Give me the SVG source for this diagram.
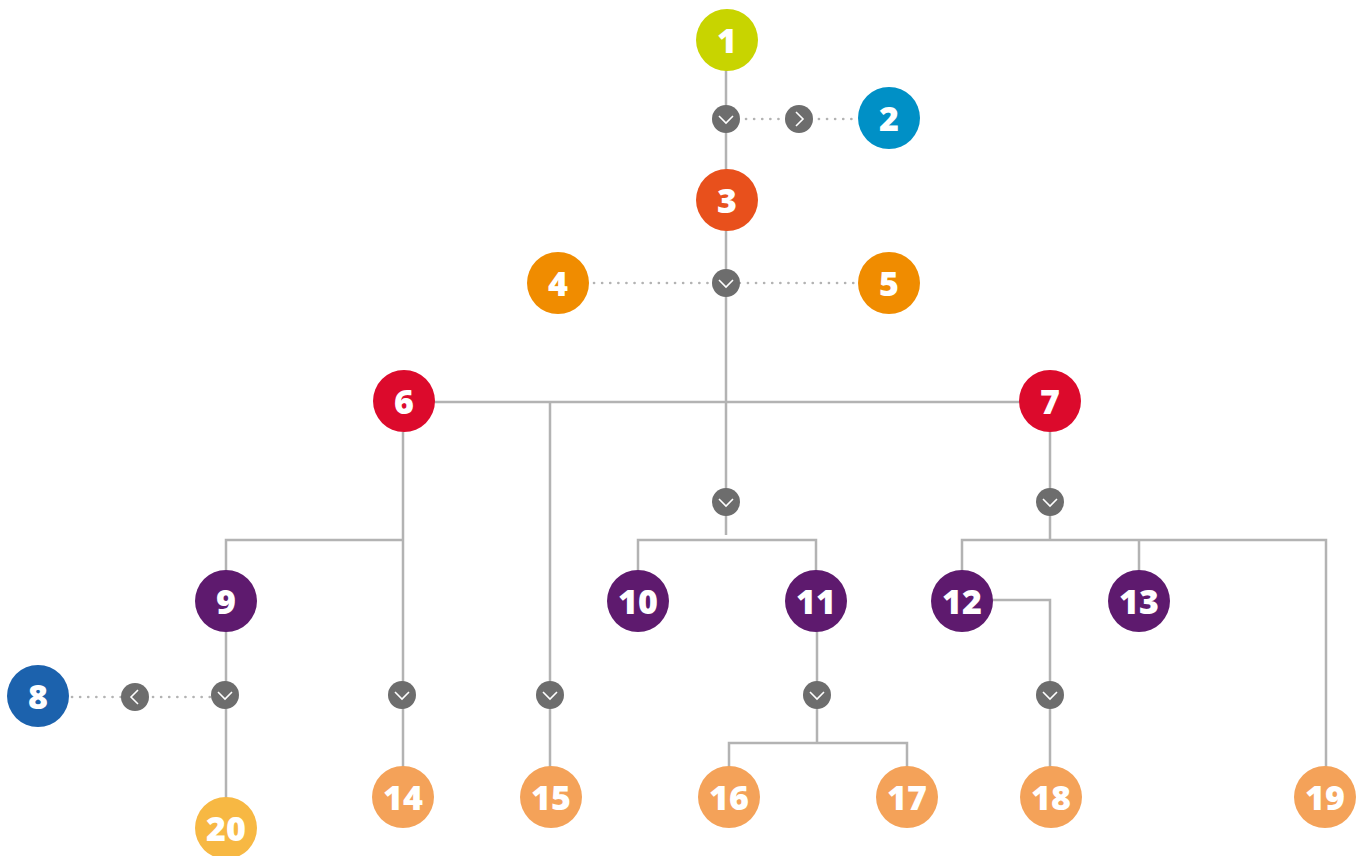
<svg xmlns="http://www.w3.org/2000/svg" width="1365" height="856" viewBox="0 0 1365 856">
<style>
.ln{stroke:#b3b3b3;stroke-width:2.5;fill:none}
.dot{stroke:#b3b3b3;stroke-width:2.6;fill:none;stroke-dasharray:0.1 8;stroke-linecap:round}
.ch{fill:#6d6d6d}
.cv{stroke:#fff;stroke-width:1.6;fill:none}
.t{font-family:"Open Sans","Noto Sans",sans-serif;font-weight:800;font-size:34px;fill:#fff;text-anchor:middle;dominant-baseline:central}
</style>
<defs>
<g id="down"><circle r="14" class="ch"/><polyline class="cv" points="-7,-3 0,4 7,-3"/></g>
<g id="right"><circle r="14" class="ch"/><polyline class="cv" points="-3,-7 4,0 -3,7"/></g>
<g id="left"><circle r="14" class="ch"/><polyline class="cv" points="3,-7 -4,0 3,7"/></g>
</defs>
<g id="connectors">
<line class="ln" x1="726" y1="70" x2="726" y2="170"/>
<line class="dot" x1="746" y1="119" x2="858" y2="119"/>
<line class="ln" x1="726" y1="230" x2="726" y2="535"/>
<line class="dot" x1="594" y1="283" x2="858" y2="283"/>
<line class="ln" x1="434" y1="402" x2="1020" y2="402"/>
<line class="ln" x1="550" y1="402" x2="550" y2="767"/>
<polyline class="ln" points="638,571 638,540 816,540 816,571"/>
<line class="ln" x1="403" y1="432" x2="403" y2="767"/>
<polyline class="ln" points="403,540 226,540 226,571"/>
<line class="ln" x1="226" y1="631" x2="226" y2="798"/>
<line class="dot" x1="72" y1="697" x2="210" y2="697"/>
<line class="ln" x1="1050" y1="432" x2="1050" y2="540"/>
<polyline class="ln" points="962,571 962,540 1326,540 1326,767"/>
<line class="ln" x1="1139" y1="540" x2="1139" y2="571"/>
<polyline class="ln" points="992,600 1050,600 1050,767"/>
<line class="ln" x1="817" y1="631" x2="817" y2="743"/>
<polyline class="ln" points="729,767 729,743 907,743 907,767"/>
</g>
<g id="chevrons">
<use href="#down" x="726" y="119"/>
<use href="#right" x="799" y="119"/>
<use href="#down" x="726" y="283"/>
<use href="#down" x="726" y="502"/>
<use href="#down" x="1050" y="502"/>
<use href="#down" x="225" y="695"/>
<use href="#left" x="135" y="697"/>
<use href="#down" x="402" y="695"/>
<use href="#down" x="550" y="695"/>
<use href="#down" x="817" y="695"/>
<use href="#down" x="1050" y="695"/>
</g>
<g id="n1"><circle cx="727" cy="40" r="31" fill="#c8d400"/><text class="t" x="727" y="40">1</text></g>
<g id="n2"><circle cx="889" cy="118" r="31" fill="#0090c6"/><text class="t" x="889" y="118">2</text></g>
<g id="n3"><circle cx="727" cy="200" r="31" fill="#e8501c"/><text class="t" x="727" y="200">3</text></g>
<g id="n4"><circle cx="558" cy="283" r="31" fill="#f08c00"/><text class="t" x="558" y="283">4</text></g>
<g id="n5"><circle cx="889" cy="283" r="31" fill="#f08c00"/><text class="t" x="889" y="283">5</text></g>
<g id="n6"><circle cx="404" cy="401" r="31" fill="#dc0a2c"/><text class="t" x="404" y="401">6</text></g>
<g id="n7"><circle cx="1050" cy="401" r="31" fill="#dc0a2c"/><text class="t" x="1050" y="401">7</text></g>
<g id="n8"><circle cx="38" cy="696" r="31" fill="#1c62ad"/><text class="t" x="38" y="696">8</text></g>
<g id="n9"><circle cx="226" cy="601" r="31" fill="#5e1a6e"/><text class="t" x="226" y="601">9</text></g>
<g id="n10"><circle cx="638" cy="601" r="31" fill="#5e1a6e"/><text class="t" x="638" y="601">10</text></g>
<g id="n11"><circle cx="816" cy="601" r="31" fill="#5e1a6e"/><text class="t" x="816" y="601">11</text></g>
<g id="n12"><circle cx="962" cy="601" r="31" fill="#5e1a6e"/><text class="t" x="962" y="601">12</text></g>
<g id="n13"><circle cx="1139" cy="601" r="31" fill="#5e1a6e"/><text class="t" x="1139" y="601">13</text></g>
<g id="n14"><circle cx="403" cy="797" r="31" fill="#f4a259"/><text class="t" x="403" y="797">14</text></g>
<g id="n15"><circle cx="551" cy="797" r="31" fill="#f4a259"/><text class="t" x="551" y="797">15</text></g>
<g id="n16"><circle cx="729" cy="797" r="31" fill="#f4a259"/><text class="t" x="729" y="797">16</text></g>
<g id="n17"><circle cx="907" cy="797" r="31" fill="#f4a259"/><text class="t" x="907" y="797">17</text></g>
<g id="n18"><circle cx="1051" cy="797" r="31" fill="#f4a259"/><text class="t" x="1051" y="797">18</text></g>
<g id="n19"><circle cx="1325" cy="797" r="31" fill="#f4a259"/><text class="t" x="1325" y="797">19</text></g>
<g id="n20"><circle cx="226" cy="828" r="31" fill="#f7b843"/><text class="t" x="226" y="828">20</text></g>
</svg>
